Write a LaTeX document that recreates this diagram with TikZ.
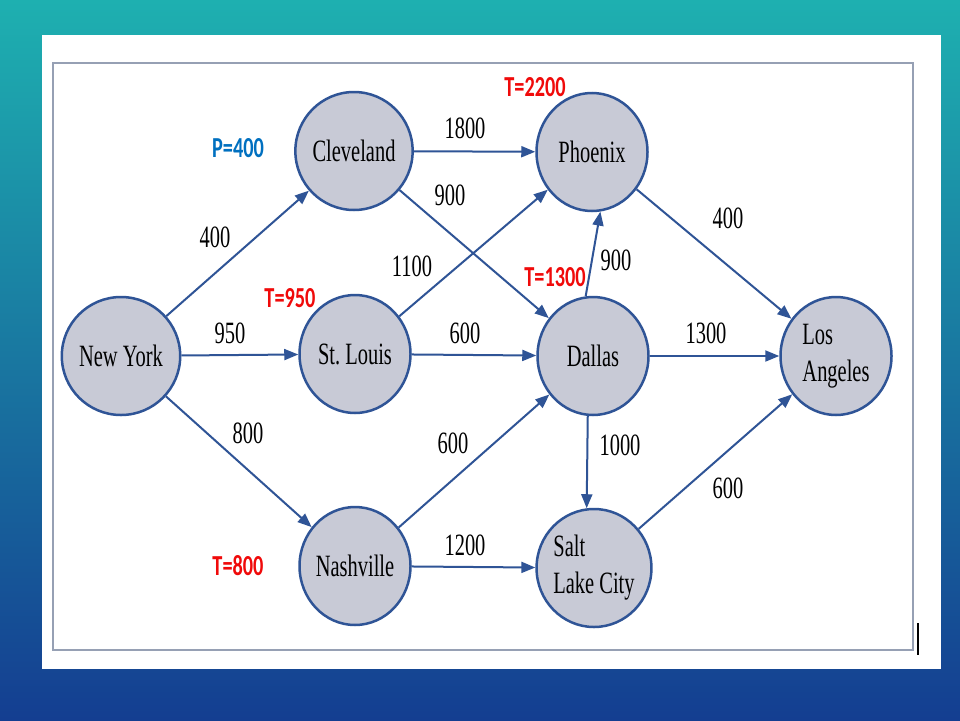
\documentclass[tikz,border=0pt]{standalone}
\usepackage{fontspec}
\usepackage{tikz}
\usetikzlibrary{shapes.geometric, arrows.meta, positioning, calc}
\newfontfamily\cityfont[FakeStretch=0.66]{Liberation Serif}
\newfontfamily\tagfont[FakeStretch=0.7]{Carlito}
\definecolor{mynavy}{RGB}{47,84,150}
\definecolor{mycircle}{RGB}{200,202,214}
\definecolor{myred}{RGB}{240,10,10}
\definecolor{myblue}{RGB}{0,112,192}
\definecolor{bgteal}{RGB}{30,176,176}
\definecolor{bgblue}{RGB}{20,62,145}
\definecolor{framegray}{RGB}{150,160,180}
\tikzset{
  city/.style={ellipse, draw=mynavy, fill=mycircle, line width=2.5pt, minimum width=111pt, minimum height=118pt, inner sep=0pt, align=left, font=\cityfont\fontsize{31}{37}\selectfont},
  cost/.style={font=\cityfont\fontsize{31}{37}\selectfont, inner sep=0pt},
  tag/.style={font=\tagfont\bfseries\fontsize{29}{31}\selectfont, inner sep=0pt},
  route/.style={-{Triangle[length=14pt,width=11pt]}, line width=2pt, color=mynavy}
}

\begin{document}
\begin{tikzpicture}[x=1pt, y=-1pt]
  % ═══════════════════════════════════════════════════════════════
  % SLIDE: background, white panel, frame
  % ═══════════════════════════════════════════════════════════════
  \useasboundingbox (0,0) rectangle (960,720);
  \shade[top color=bgteal, bottom color=bgblue] (0,0) rectangle (960,720);
  \fill[white] (42,35) rectangle (941,669);
  \draw[framegray, line width=2pt] (53,63) rectangle (913,650);
  \draw[black, line width=2.5pt] (918,623) -- (918,655);

  % ═══════════════════════════════════════════════════════════════
  % CITIES
  % ═══════════════════════════════════════════════════════════════
  \node[city] (newyork)   at (121,356) {New York};
  \node[city] (cleveland) at (354,151) {Cleveland};
  \node[city] (stlouis)   at (355,354) {St.\ Louis};
  \node[city] (nashville) at (355,566) {Nashville};
  \node[city] (phoenix)   at (592,152) {Phoenix};
  \node[city] (dallas)    at (593,356) {Dallas};
  \node[city] (saltlake)  at (594,568) {Salt\\Lake City};
  \node[city] (losangeles) at (836,356) {Los\\Angeles};

  % ═══════════════════════════════════════════════════════════════
  % ROUTES
  % ═══════════════════════════════════════════════════════════════
  \draw[route] (newyork) -- (cleveland);
  \draw[route] (newyork) -- (stlouis);
  \draw[route] (newyork) -- (nashville);
  \draw[route] (cleveland) -- (phoenix);
  \draw[route] (cleveland) -- (dallas);
  \draw[route] (stlouis) -- (phoenix);
  \draw[route] (stlouis) -- (dallas);
  \draw[route] (nashville) -- (dallas);
  \draw[route] (nashville) -- (saltlake);
  \draw[route] (dallas.97) -- (phoenix.-82);
  \draw[route] (dallas) -- (losangeles);
  \draw[route] (dallas.-95) -- (saltlake.97);
  \draw[route] (phoenix) -- (losangeles);
  \draw[route] (saltlake) -- (losangeles);

  % Distances
  \node[cost] (c1)  at (215,237) {400};
  \node[cost] (c2)  at (230,333) {950};
  \node[cost] (c3)  at (248,433) {800};
  \node[cost] (c4)  at (465,128) {1800};
  \node[cost] (c5)  at (450,195) {900};
  \node[cost] (c6)  at (412,266) {1100};
  \node[cost] (c7)  at (465,333) {600};
  \node[cost] (c8)  at (453,443) {600};
  \node[cost] (c9)  at (465,545) {1200};
  \node[cost] (c10) at (616,260) {900};
  \node[cost] (c11) at (706,333) {1300};
  \node[cost] (c12) at (620,445) {1000};
  \node[cost] (c13) at (728,218) {400};
  \node[cost] (c14) at (728,488) {600};

  % ═══════════════════════════════════════════════════════════════
  % TIME TAGS
  % ═══════════════════════════════════════════════════════════════
  \node[tag, color=myred]  (tphoenix)   at (535,87)  {T=2200};
  \node[tag, color=myblue] (pcleveland) at (238,148) {P=400};
  \node[tag, color=myred]  (tstlouis)   at (290,298) {T=950};
  \node[tag, color=myred]  (tdallas)    at (555,277) {T=1300};
  \node[tag, color=myred]  (tnashville) at (238,566) {T=800};
\end{tikzpicture}
\end{document}
